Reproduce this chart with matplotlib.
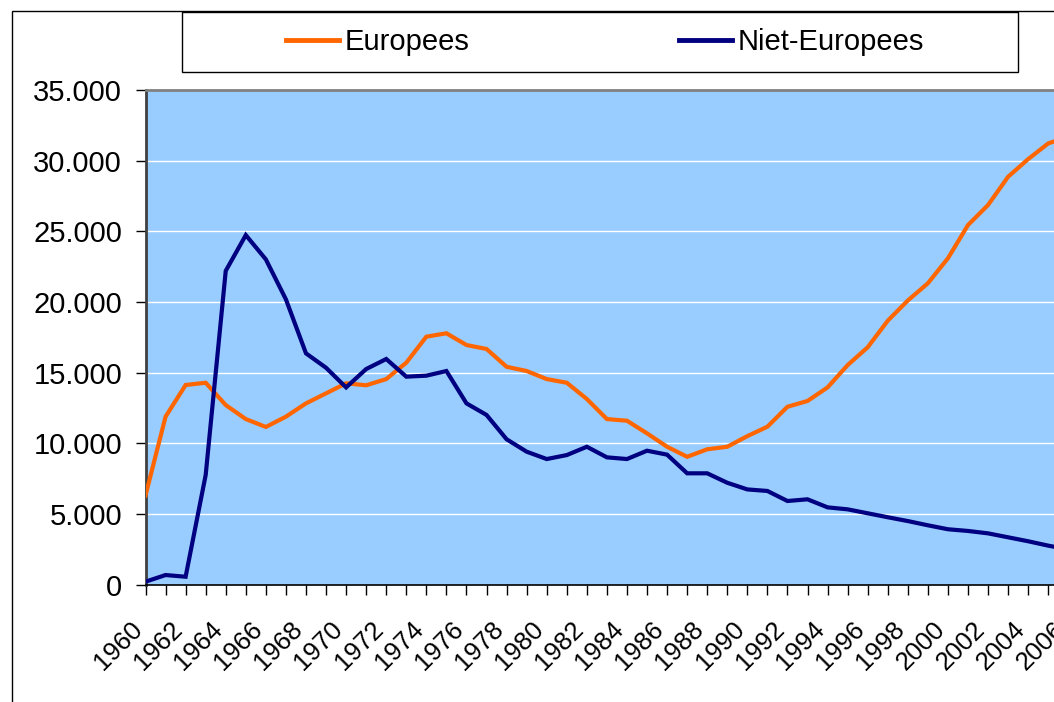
import matplotlib
matplotlib.use("Agg")
import matplotlib.pyplot as plt
import matplotlib.transforms as mtransforms
from matplotlib.patches import Rectangle
from matplotlib.ticker import FuncFormatter, MultipleLocator

years = list(range(1960, 2007))
europees = [6300, 11880, 14120, 14280, 12700, 11710, 11150, 11880, 12820, 13530,
            14240, 14100, 14540, 15700, 17540, 17780, 16950, 16670, 15410, 15110,
            14540, 14280, 13130, 11710, 11590, 10700, 9750, 9040, 9570, 9750,
            10500, 11170, 12580, 12990, 13950, 15530, 16790, 18670, 20100, 21320,
            23090, 25440, 26860, 28860, 30110, 31220, 31700]
niet_europees = [200, 670, 550, 7750, 22200, 24730, 23010, 20180, 16360, 15340,
                 13950, 15250, 15960, 14710, 14780, 15110, 12820, 12000, 10280, 9400,
                 8880, 9160, 9750, 9000, 8880, 9470, 9190, 7870, 7870, 7200,
                 6730, 6620, 5910, 6030, 5460, 5320, 5040, 4760, 4490, 4190,
                 3910, 3790, 3620, 3340, 3060, 2750, 2480]
series_names = ["Europees", "Niet-Europees"]
series_colors = ["#FF6600", "#000080"]

plt.rcParams['font.family'] = ['Liberation Sans', 'DejaVu Sans']

W, H = 1054, 702
fig = plt.figure(figsize=(W / 100, H / 100), dpi=100)
fig.patch.set_facecolor("white")

def fx(px):
    return px / W

def fy(py):
    return 1 - py / H

# outer chart border (extends beyond image on right/bottom)
fig.patches.append(Rectangle((fx(12), fy(760)), fx(1200), fy(11) - fy(760),
                             transform=fig.transFigure, fill=False,
                             edgecolor="black", linewidth=1.0, zorder=0))

left_px, right_px, top_px, bot_px = 145.5, 1068.3, 90, 584.5
ax = fig.add_axes([fx(left_px), fy(bot_px), fx(right_px - left_px), (bot_px - top_px) / H])
ax.set_facecolor("#99CCFF")

for vals, name, col in zip([europees, niet_europees], series_names, series_colors):
    ax.plot(years, vals, color=col, lw=3.0, label=name, solid_joinstyle="miter", zorder=3)

ax.set_xlim(1960, 2006)
ax.set_ylim(0, 35000)
ax.yaxis.set_major_locator(MultipleLocator(5000))
ax.yaxis.set_major_formatter(FuncFormatter(lambda v, p: f"{int(v):,}".replace(",", ".")))
ax.set_xticks(years)
ax.set_xticklabels([str(y) if (y - 1960) % 2 == 0 else "" for y in years])
ax.grid(axis="y", color="white", lw=1.0, zorder=1)
ax.set_axisbelow(True)

ax.tick_params(axis="y", direction="out", length=7.2, width=1, color="black",
               labelsize=21, pad=9.7)
ax.tick_params(axis="x", direction="out", length=7.2, width=1, color="black",
               labelsize=18.5, pad=16)
offset = mtransforms.ScaledTranslation(-15.5 / 100, 0, fig.dpi_scale_trans)
for lab in ax.get_xticklabels():
    lab.set_rotation(45)
    lab.set_ha("right")
    lab.set_va("top")
    lab.set_rotation_mode("anchor")
    lab.set_transform(lab.get_transform() + offset)

ax.spines["top"].set_color("#808080")
ax.spines["top"].set_linewidth(2)
ax.spines["left"].set_color("#404040")
ax.spines["left"].set_linewidth(2)
ax.spines["bottom"].set_color("black")
ax.spines["bottom"].set_linewidth(1.2)
ax.spines["right"].set_visible(False)

# legend frame
fig.patches.append(Rectangle((fx(182), fy(72)), fx(1018 - 182), fy(12) - fy(72),
                             transform=fig.transFigure, facecolor="white",
                             edgecolor="black", linewidth=1.0, zorder=1))
handles, labels = ax.get_legend_handles_labels()
leg = fig.legend(handles, labels, loc="center", bbox_to_anchor=(fx(605), fy(42)),
                 ncol=2, frameon=False, fontsize=21, handlelength=1.8,
                 handletextpad=0.2, columnspacing=7.2)
for h in leg.get_lines():
    h.set_linewidth(3.5)

fig.savefig("out.png", dpi=100)
